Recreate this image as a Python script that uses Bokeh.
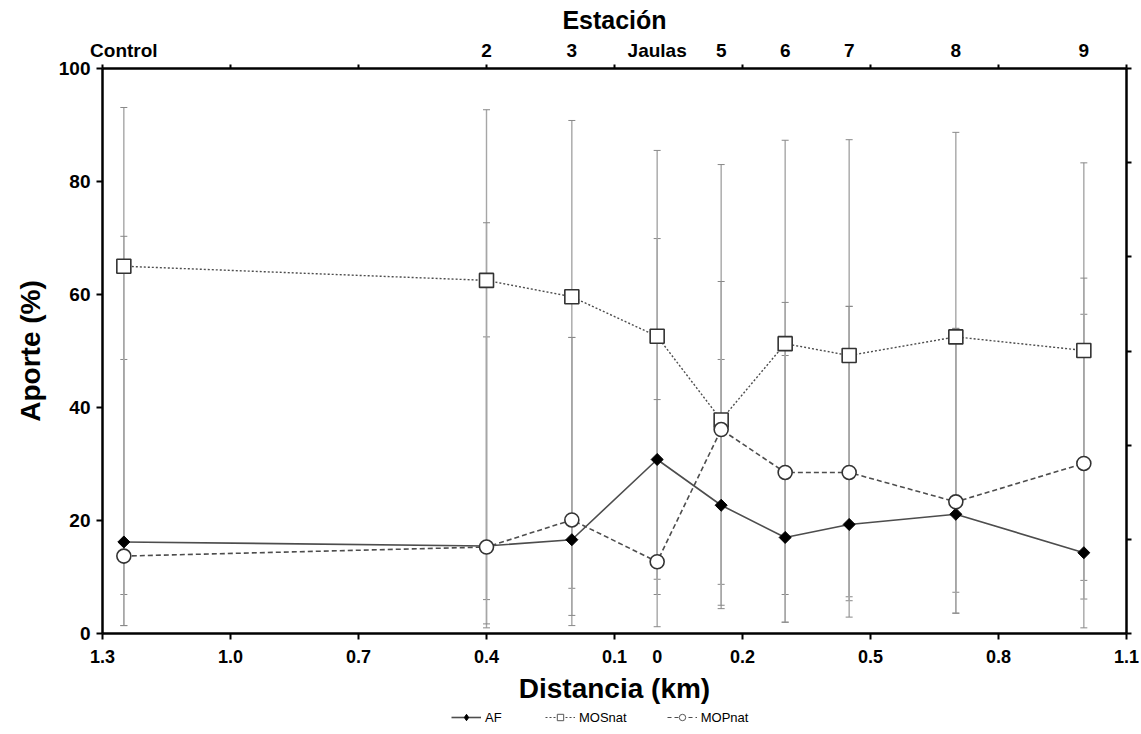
from bokeh.plotting import figure
from bokeh.layouts import column
from bokeh.models import (ColumnDataSource, FixedTicker, LinearAxis, Range1d,
                          Whisker, TeeHead, Legend, LegendItem)
from bokeh.embed import file_html
from bokeh.resources import INLINE

# Stations and their signed distance to the cages (km)
estaciones = ["Control", "2", "3", "Jaulas", "5", "6", "7", "8", "9"]
distancia = [-1.25, -0.4, -0.2, 0.0, 0.15, 0.3, 0.45, 0.7, 1.0]

# Source contributions (%) with their lower / upper limits
af = [16.2, 15.5, 16.6, 30.8, 22.7, 17.0, 19.3, 21.1, 14.3]
af_lo = [1.4, 1.0, 1.4, 9.6, 8.7, 2.0, 6.5, 3.6, 9.4]
af_hi = [48.5, 52.5, 52.4, 69.9, 48.5, 49.2, 57.9, 54.0, 56.5]

mosnat = [65.0, 62.5, 59.6, 52.6, 37.8, 51.3, 49.2, 52.5, 50.1]
mos_lo = [6.9, 6.0, 8.0, 6.9, 4.4, 6.9, 5.8, 7.3, 6.1]
mos_hi = [93.1, 92.7, 90.8, 85.5, 83.0, 87.3, 87.4, 88.7, 83.3]

mopnat = [13.7, 15.3, 20.1, 12.7, 36.1, 28.5, 28.5, 23.3, 30.1]
mop_lo = [1.4, 1.7, 3.2, 1.2, 5.0, 2.0, 2.9, 3.6, 1.0]
mop_hi = [70.3, 72.7, 52.4, 41.4, 62.3, 58.6, 57.9, 54.0, 62.9]

# Distance axis: tick marks and their (unsigned) labels
dist_ticks = [-1.3, -1.0, -0.7, -0.4, -0.1, 0.2, 0.5, 0.8, 1.1]
dist_labels = ["1.3", "1.0", "0.7", "0.4", "0.1", "0.2", "0.5", "0.8", "1.1"]
y_ticks = [0, 20, 40, 60, 80, 100]

FONT = "Liberation Sans"
AXIS_COLOR = "black"
LINE_COLOR = "#4d4d4d"

p = figure(width=1141, height=708, x_range=Range1d(-1.3, 1.1),
           y_range=Range1d(0, 100), output_backend="svg",
           toolbar_location=None, min_border_left=102, min_border_right=15,
           min_border_top=68, min_border_bottom=75)
p.xgrid.visible = False
p.ygrid.visible = False
p.outline_line_color = None
p.background_fill_color = "white"


def style_axis(ax, tick_size="19px", label_size="28px"):
    ax.axis_line_color = AXIS_COLOR
    ax.axis_line_width = 2.5
    ax.major_tick_line_color = AXIS_COLOR
    ax.major_tick_line_width = 2
    ax.minor_tick_line_color = AXIS_COLOR
    ax.minor_tick_line_width = 2
    ax.major_label_text_font = FONT
    ax.major_label_text_font_style = "bold"
    ax.major_label_text_font_size = tick_size
    ax.major_label_text_color = "black"
    ax.axis_label_text_font = FONT
    ax.axis_label_text_font_style = "bold"
    ax.axis_label_text_font_size = label_size
    ax.axis_label_text_color = "black"


# bottom distance axis: labels at every tick plus "0", marks only at ticks
xa = p.xaxis[0]
style_axis(xa, "18px")
label_pos = dist_ticks[:5] + [0.0] + dist_ticks[5:]
label_txt = dist_labels[:5] + ["0"] + dist_labels[5:]
xa.ticker = FixedTicker(ticks=label_pos, minor_ticks=dist_ticks)
xa.major_label_overrides = {v: t for v, t in zip(label_pos, label_txt)}
xa.major_tick_out = 0
xa.major_tick_in = 0
xa.minor_tick_out = 6
xa.minor_tick_in = 0
xa.major_label_standoff = 10
xa.axis_label = "Distancia (km)"
xa.axis_label_standoff = 7

# left axis
ya = p.yaxis[0]
style_axis(ya)
ya.ticker = FixedTicker(ticks=y_ticks)
ya.major_tick_out = 6
ya.major_tick_in = 0
ya.minor_tick_out = 0
ya.minor_tick_in = 0
ya.major_label_standoff = 6
ya.axis_label = "Aporte (%)"
ya.axis_label_standoff = 10

# top station axis: names at the stations, marks at the distance ticks
top = LinearAxis(ticker=FixedTicker(ticks=distancia, minor_ticks=dist_ticks),
                 major_label_overrides={d: s for d, s in zip(distancia, estaciones)},
                 axis_label="Estación")
style_axis(top, "19px", "25px")
top.major_tick_out = 0
top.major_tick_in = 0
top.minor_tick_out = 4
top.minor_tick_in = 0
top.major_label_standoff = 4
top.axis_label_standoff = 3
p.add_layout(top, "above")

# right axis: plain tick marks, no labels
p.extra_y_ranges = {"r": Range1d(0, 6)}
right = LinearAxis(y_range_name="r", ticker=FixedTicker(ticks=list(range(7))),
                   major_label_overrides={i: "" for i in range(7)})
style_axis(right)
right.major_tick_out = 5
right.major_tick_in = 0
right.minor_tick_out = 0
right.minor_tick_in = 0
right.major_label_standoff = 0
p.add_layout(right, "right")

series = [
    ("AF", af, af_lo, af_hi),
    ("MOSnat", mosnat, mos_lo, mos_hi),
    ("MOPnat", mopnat, mop_lo, mop_hi),
]

# interval bars behind everything
for name, vals, lo, hi in series:
    src = ColumnDataSource(dict(x=distancia, lo=lo, hi=hi))
    w = Whisker(source=src, base="x", lower="lo", upper="hi",
                line_color="#a6a6a6", line_width=1.4, level="underlay",
                upper_head=TeeHead(size=7, line_color="#888888", line_width=1),
                lower_head=TeeHead(size=7, line_color="#888888", line_width=1))
    p.add_layout(w)

src_af = ColumnDataSource(dict(x=distancia, y=af))
p.line("x", "y", source=src_af, line_color=LINE_COLOR, line_width=1.6)
p.scatter("x", "y", source=src_af, marker="square", angle=0.785398, size=8.5,
          fill_color="black", line_color="black", line_width=1)

src_mos = ColumnDataSource(dict(x=distancia, y=mosnat))
p.line("x", "y", source=src_mos, line_color=LINE_COLOR, line_width=1.4,
       line_dash="2 2")
p.scatter("x", "y", source=src_mos, marker="square", size=14,
          fill_color="white", line_color="#333333", line_width=1.6)

src_mop = ColumnDataSource(dict(x=distancia, y=mopnat))
p.line("x", "y", source=src_mop, line_color=LINE_COLOR, line_width=1.6,
       line_dash="5 3")
p.scatter("x", "y", source=src_mop, marker="circle", size=14,
          fill_color="white", line_color="#333333", line_width=1.6)

# legend strip underneath the chart; its key glyphs sit outside the visible range
leg = figure(width=1141, height=26, x_range=Range1d(0, 1), y_range=Range1d(0, 1),
             output_backend="svg", toolbar_location=None, min_border=0)
leg.axis.visible = False
leg.xgrid.visible = False
leg.ygrid.visible = False
leg.outline_line_color = None

hidden = ColumnDataSource(dict(x=[-5.0], y=[-5.0]))
k_af = [leg.line("x", "y", source=hidden, line_color=LINE_COLOR, line_width=1.6),
        leg.scatter("x", "y", source=hidden, marker="diamond",
                    size=8, fill_color="black", line_color="black")]
k_mos = [leg.line("x", "y", source=hidden, line_color=LINE_COLOR, line_width=1.2,
                  line_dash="2 2"),
         leg.scatter("x", "y", source=hidden, marker="square", size=8,
                     fill_color="white", line_color="#555555", line_width=1)]
k_mop = [leg.line("x", "y", source=hidden, line_color=LINE_COLOR, line_width=1.2,
                  line_dash="4 3"),
         leg.scatter("x", "y", source=hidden, marker="circle", size=8,
                     fill_color="white", line_color="#555555", line_width=1)]

legend = Legend(items=[LegendItem(label="AF", renderers=k_af),
                       LegendItem(label="MOSnat", renderers=k_mos),
                       LegendItem(label="MOPnat", renderers=k_mop)],
                orientation="horizontal", location=(349, 9),
                border_line_color=None, background_fill_alpha=0,
                label_text_font=FONT, label_text_font_size="13px",
                label_text_color="black", glyph_width=30, glyph_height=16,
                label_standoff=4, spacing=40, padding=0, margin=0)
leg.add_layout(legend)

page = column(p, leg, spacing=0)
open("out.html", "w").write(file_html(page, INLINE))
